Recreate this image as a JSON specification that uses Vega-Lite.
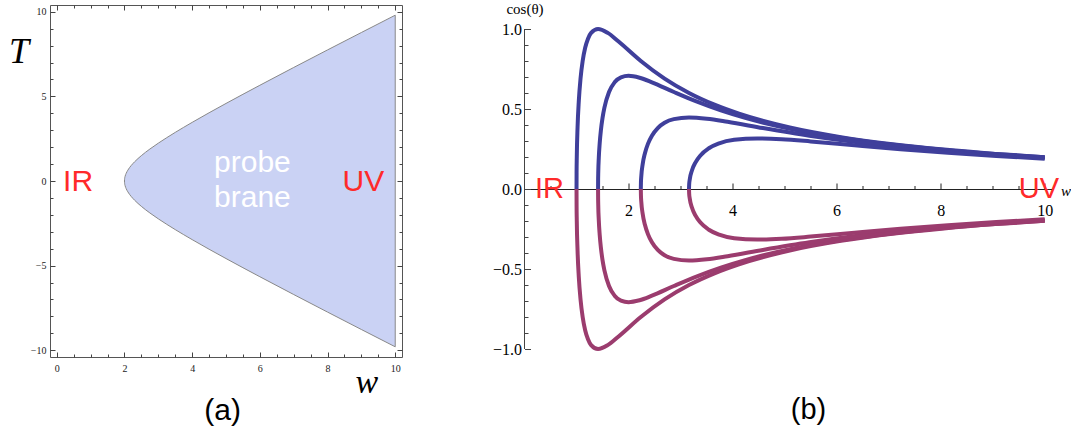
{
  "$schema": "https://vega.github.io/schema/vega-lite/v6.json",
  "padding": {"left": 8, "top": 1, "right": 0, "bottom": 0},
  "spacing": 122.5,
  "bounds": "flush",
  "config": {
    "view": {"stroke": "#555555", "strokeWidth": 1},
    "axis": {"grid": false, "minExtent": 0, "labelOverlap": false, "labelFont": "Liberation Serif", "titleFont": "Liberation Serif", "labelColor": "#222222", "titleColor": "#000000", "tickColor": "#444444", "domainColor": "#333333", "titleFontWeight": "normal"}
  },
  "datasets": {
    "brane": [
      {"w": 2, "hi": 0, "lo": 0},
      {"w": 2.005, "hi": 0.1415, "lo": -0.1415},
      {"w": 2.02, "hi": 0.2835, "lo": -0.2835},
      {"w": 2.05, "hi": 0.45, "lo": -0.45},
      {"w": 2.1, "hi": 0.6403, "lo": -0.6403},
      {"w": 2.2, "hi": 0.9165, "lo": -0.9165},
      {"w": 2.3, "hi": 1.1358, "lo": -1.1358},
      {"w": 2.5, "hi": 1.5, "lo": -1.5},
      {"w": 2.75, "hi": 1.8875, "lo": -1.8875},
      {"w": 3, "hi": 2.2361, "lo": -2.2361},
      {"w": 3.5, "hi": 2.8723, "lo": -2.8723},
      {"w": 4, "hi": 3.4641, "lo": -3.4641},
      {"w": 5, "hi": 4.5826, "lo": -4.5826},
      {"w": 6, "hi": 5.6569, "lo": -5.6569},
      {"w": 7, "hi": 6.7082, "lo": -6.7082},
      {"w": 8, "hi": 7.746, "lo": -7.746},
      {"w": 9, "hi": 8.775, "lo": -8.775},
      {"w": 10, "hi": 9.798, "lo": -9.798}
    ],
    "curves": [
      {"c": 1, "w": 1, "up": 0, "lo": 0},
      {"c": 1, "w": 1.00125, "up": 0.0998, "lo": -0.0998},
      {"c": 1, "w": 1.005, "up": 0.198, "lo": -0.198},
      {"c": 1, "w": 1.0198, "up": 0.3846, "lo": -0.3846},
      {"c": 1, "w": 1.044, "up": 0.5505, "lo": -0.5505},
      {"c": 1, "w": 1.077, "up": 0.6897, "lo": -0.6897},
      {"c": 1, "w": 1.118, "up": 0.8, "lo": -0.8},
      {"c": 1, "w": 1.1662, "up": 0.8824, "lo": -0.8824},
      {"c": 1, "w": 1.2207, "up": 0.9396, "lo": -0.9396},
      {"c": 1, "w": 1.2806, "up": 0.9756, "lo": -0.9756},
      {"c": 1, "w": 1.4142, "up": 1, "lo": -1},
      {"c": 1, "w": 1.6008, "up": 0.9756, "lo": -0.9756},
      {"c": 1, "w": 1.8028, "up": 0.9231, "lo": -0.9231},
      {"c": 1, "w": 2.2361, "up": 0.8, "lo": -0.8},
      {"c": 1, "w": 2.6926, "up": 0.6897, "lo": -0.6897},
      {"c": 1, "w": 3.1623, "up": 0.6, "lo": -0.6},
      {"c": 1, "w": 3.6401, "up": 0.5283, "lo": -0.5283},
      {"c": 1, "w": 4.1231, "up": 0.4706, "lo": -0.4706},
      {"c": 1, "w": 5.099, "up": 0.3846, "lo": -0.3846},
      {"c": 1, "w": 6.0828, "up": 0.3243, "lo": -0.3243},
      {"c": 1, "w": 7.0711, "up": 0.28, "lo": -0.28},
      {"c": 1, "w": 8.0623, "up": 0.2462, "lo": -0.2462},
      {"c": 1, "w": 9.0554, "up": 0.2195, "lo": -0.2195},
      {"c": 1, "w": 10, "up": 0.199, "lo": -0.199},
      {"c": 2, "w": 1.4142, "up": 0, "lo": 0},
      {"c": 2, "w": 1.4151, "up": 0.0499, "lo": -0.0499},
      {"c": 2, "w": 1.4177, "up": 0.0995, "lo": -0.0995},
      {"c": 2, "w": 1.4283, "up": 0.1961, "lo": -0.1961},
      {"c": 2, "w": 1.4457, "up": 0.2871, "lo": -0.2871},
      {"c": 2, "w": 1.4697, "up": 0.3704, "lo": -0.3704},
      {"c": 2, "w": 1.5, "up": 0.4444, "lo": -0.4444},
      {"c": 2, "w": 1.5362, "up": 0.5085, "lo": -0.5085},
      {"c": 2, "w": 1.6248, "up": 0.6061, "lo": -0.6061},
      {"c": 2, "w": 1.7321, "up": 0.6667, "lo": -0.6667},
      {"c": 2, "w": 1.8547, "up": 0.6977, "lo": -0.6977},
      {"c": 2, "w": 2, "up": 0.7071, "lo": -0.7071},
      {"c": 2, "w": 2.2113, "up": 0.6953, "lo": -0.6953},
      {"c": 2, "w": 2.4495, "up": 0.6667, "lo": -0.6667},
      {"c": 2, "w": 2.8723, "up": 0.6061, "lo": -0.6061},
      {"c": 2, "w": 3.3166, "up": 0.5455, "lo": -0.5455},
      {"c": 2, "w": 3.7749, "up": 0.4912, "lo": -0.4912},
      {"c": 2, "w": 4.2426, "up": 0.4444, "lo": -0.4444},
      {"c": 2, "w": 5.1962, "up": 0.3704, "lo": -0.3704},
      {"c": 2, "w": 6.1644, "up": 0.3158, "lo": -0.3158},
      {"c": 2, "w": 7.1414, "up": 0.2745, "lo": -0.2745},
      {"c": 2, "w": 8.124, "up": 0.2424, "lo": -0.2424},
      {"c": 2, "w": 9.1104, "up": 0.2169, "lo": -0.2169},
      {"c": 2, "w": 10, "up": 0.198, "lo": -0.198},
      {"c": 3, "w": 2.2361, "up": 0, "lo": 0},
      {"c": 3, "w": 2.2383, "up": 0.0399, "lo": -0.0399},
      {"c": 3, "w": 2.245, "up": 0.0794, "lo": -0.0794},
      {"c": 3, "w": 2.2716, "up": 0.155, "lo": -0.155},
      {"c": 3, "w": 2.3152, "up": 0.2239, "lo": -0.2239},
      {"c": 3, "w": 2.3749, "up": 0.2837, "lo": -0.2837},
      {"c": 3, "w": 2.4495, "up": 0.3333, "lo": -0.3333},
      {"c": 3, "w": 2.5617, "up": 0.381, "lo": -0.381},
      {"c": 3, "w": 2.6926, "up": 0.4138, "lo": -0.4138},
      {"c": 3, "w": 2.8705, "up": 0.4369, "lo": -0.4369},
      {"c": 3, "w": 3.1623, "up": 0.4472, "lo": -0.4472},
      {"c": 3, "w": 3.5057, "up": 0.4394, "lo": -0.4394},
      {"c": 3, "w": 3.9038, "up": 0.42, "lo": -0.42},
      {"c": 3, "w": 4.5826, "up": 0.381, "lo": -0.381},
      {"c": 3, "w": 5.4772, "up": 0.3333, "lo": -0.3333},
      {"c": 3, "w": 6.4031, "up": 0.2927, "lo": -0.2927},
      {"c": 3, "w": 7.3485, "up": 0.2593, "lo": -0.2593},
      {"c": 3, "w": 8.3066, "up": 0.2319, "lo": -0.2319},
      {"c": 3, "w": 9.2736, "up": 0.2093, "lo": -0.2093},
      {"c": 3, "w": 10, "up": 0.1949, "lo": -0.1949},
      {"c": 4, "w": 3.1623, "up": 0, "lo": 0},
      {"c": 4, "w": 3.1658, "up": 0.0299, "lo": -0.0299},
      {"c": 4, "w": 3.1765, "up": 0.0595, "lo": -0.0595},
      {"c": 4, "w": 3.2187, "up": 0.1158, "lo": -0.1158},
      {"c": 4, "w": 3.2879, "up": 0.1665, "lo": -0.1665},
      {"c": 4, "w": 3.3823, "up": 0.2098, "lo": -0.2098},
      {"c": 4, "w": 3.544, "up": 0.2548, "lo": -0.2548},
      {"c": 4, "w": 3.7417, "up": 0.2857, "lo": -0.2857},
      {"c": 4, "w": 4.0311, "up": 0.3077, "lo": -0.3077},
      {"c": 4, "w": 4.4721, "up": 0.3162, "lo": -0.3162},
      {"c": 4, "w": 4.9437, "up": 0.311, "lo": -0.311},
      {"c": 4, "w": 5.5, "up": 0.2975, "lo": -0.2975},
      {"c": 4, "w": 6.3443, "up": 0.2733, "lo": -0.2733},
      {"c": 4, "w": 7.2284, "up": 0.2488, "lo": -0.2488},
      {"c": 4, "w": 8.1394, "up": 0.2264, "lo": -0.2264},
      {"c": 4, "w": 9.0692, "up": 0.2067, "lo": -0.2067},
      {"c": 4, "w": 10, "up": 0.1897, "lo": -0.1897}
    ]
  },
  "hconcat": [
    {
      "width": 352,
      "height": 352,
      "layer": [
        {
          "data": {"name": "brane"},
          "mark": {"type": "area", "color": "#cad2f4", "opacity": 1, "interpolate": "monotone"},
          "encoding": {
            "x": {"field": "w", "type": "quantitative", "scale": {"domain": [-0.2, 10.2], "nice": false, "zero": false},
              "axis": {"orient": "bottom", "values": [0, 0.5, 1, 1.5, 2, 2.5, 3, 3.5, 4, 4.5, 5, 5.5, 6, 6.5, 7, 7.5, 8, 8.5, 9, 9.5, 10],
                "format": ".0f",
                "labelExpr": "datum.value % 2 === 0 ? datum.label : ''",
                "tickSize": {"condition": {"test": "datum.value % 2 === 0", "value": -5}, "value": -3},
                "labelPadding": 11, "labelFontSize": 10, "domain": false,
                "title": "w", "titleFontStyle": "italic", "titleFontSize": 34, "titleX": 305, "titleY": 35, "titleAlign": "left", "titleBaseline": "alphabetic"}},
            "y": {"field": "hi", "type": "quantitative", "scale": {"domain": [-10.4, 10.4], "nice": false, "zero": false},
              "axis": {"orient": "left", "values": [-10, -9, -8, -7, -6, -5, -4, -3, -2, -1, 0, 1, 2, 3, 4, 5, 6, 7, 8, 9, 10],
                "format": ".0f",
                "labelExpr": "datum.value % 5 === 0 ? datum.label : ''",
                "tickSize": {"condition": {"test": "datum.value % 5 === 0", "value": -5}, "value": -3},
                "labelPadding": 9, "labelFontSize": 10, "domain": false,
                "title": "T", "titleAngle": 0, "titleFontStyle": "italic", "titleFontSize": 36, "titleX": -41.5, "titleY": 57, "titleAlign": "left", "titleBaseline": "alphabetic"}},
            "y2": {"field": "lo"}
          }
        },
        {
          "data": {"name": "brane"},
          "mark": {"type": "line", "color": "#888888", "strokeWidth": 1, "interpolate": "monotone"},
          "encoding": {
            "x": {"field": "w", "type": "quantitative",
              "axis": {"orient": "top", "values": [0, 0.5, 1, 1.5, 2, 2.5, 3, 3.5, 4, 4.5, 5, 5.5, 6, 6.5, 7, 7.5, 8, 8.5, 9, 9.5, 10],
                "tickSize": {"condition": {"test": "datum.value % 2 === 0", "value": -5}, "value": -3},
                "labels": false, "domain": false, "title": null}},
            "y": {"field": "hi", "type": "quantitative",
              "axis": {"orient": "right", "values": [-10, -9, -8, -7, -6, -5, -4, -3, -2, -1, 0, 1, 2, 3, 4, 5, 6, 7, 8, 9, 10],
                "tickSize": {"condition": {"test": "datum.value % 5 === 0", "value": -5}, "value": -3},
                "labels": false, "domain": false, "title": null}}
          }
        },
        {
          "data": {"name": "brane"},
          "mark": {"type": "line", "color": "#888888", "strokeWidth": 1, "interpolate": "monotone"},
          "encoding": {
            "x": {"field": "w", "type": "quantitative", "axis": null},
            "y": {"field": "lo", "type": "quantitative", "axis": null}
          }
        },
        {
          "data": {"values": [{"w": 10, "hi": 9.798, "lo": -9.798}]},
          "mark": {"type": "rule", "color": "#888888", "strokeWidth": 1},
          "encoding": {
            "x": {"field": "w", "type": "quantitative", "axis": null},
            "y": {"field": "lo", "type": "quantitative", "axis": null},
            "y2": {"field": "hi"}
          }
        },
        {
          "data": {"values": [
            {"label": "IR", "w": 0.63, "T": -0.03, "kind": "red"},
            {"label": "UV", "w": 9.06, "T": -0.03, "kind": "red"},
            {"label": "probe", "w": 5.78, "T": 1.06, "kind": "white"},
            {"label": "brane", "w": 5.78, "T": -1.01, "kind": "white"},
            {"label": "(a)", "w": 4.9, "T": -13.6, "kind": "black"}
          ]},
          "mark": {"type": "text", "font": "Liberation Sans", "fontSize": 30, "baseline": "middle", "align": "center"},
          "encoding": {
            "x": {"field": "w", "type": "quantitative", "axis": null},
            "y": {"field": "T", "type": "quantitative", "axis": null},
            "text": {"field": "label"},
            "color": {"field": "kind", "type": "nominal", "scale": {"domain": ["red", "white", "black"], "range": ["#ff2a2a", "#ffffff", "#000000"]}, "legend": null}
          }
        }
      ],
      "resolve": {"axis": {"x": "independent", "y": "independent"}}
    },
    {
      "width": 528,
      "height": 368,
      "view": {"stroke": null},
      "layer": [
        {
          "data": {"name": "curves"},
          "mark": {"type": "line", "color": "#3f3f9b", "strokeWidth": 4, "interpolate": "monotone"},
          "encoding": {
            "x": {"field": "w", "type": "quantitative", "scale": {"domain": [0, 10.15], "nice": false, "zero": false},
              "axis": {"orient": "bottom", "offset": -184, "values": [0.5, 1, 1.5, 2, 2.5, 3, 3.5, 4, 4.5, 5, 5.5, 6, 6.5, 7, 7.5, 8, 8.5, 9, 9.5, 10],
                "format": ".0f",
                "labelExpr": "datum.value % 2 === 0 ? datum.label : ''",
                "tickSize": {"condition": {"test": "datum.value % 2 === 0", "value": -6}, "value": -3.5},
                "labelPadding": 19, "labelFontSize": 16, "labelColor": "#000000", "labelOverlap": false, "labelFlush": false, "domain": true, "domainColor": "#222222", "tickColor": "#222222",
                "title": "w", "titleFontStyle": "italic", "titleFontSize": 15, "titleX": 536, "titleY": 6, "titleAlign": "left", "titleBaseline": "alphabetic"}},
            "y": {"field": "up", "type": "quantitative", "scale": {"domain": [-1.15, 1.15], "nice": false, "zero": false},
              "axis": {"orient": "left", "values": [-1, -0.9, -0.8, -0.7, -0.6, -0.5, -0.4, -0.3, -0.2, -0.1, 0, 0.1, 0.2, 0.3, 0.4, 0.5, 0.6, 0.7, 0.8, 0.9, 1],
                "format": ".1f",
                "labelExpr": "abs(datum.value * 2 - round(datum.value * 2)) < 0.001 ? datum.label : ''",
                "tickSize": {"condition": {"test": "abs(datum.value * 2 - round(datum.value * 2)) < 0.001", "value": -6}, "value": -3.5},
                "labelPadding": 9, "labelFontSize": 16, "labelColor": "#000000", "labelOverlap": false, "domain": false, "tickColor": "#444444",
                "title": "cos(θ)", "titleAngle": 0, "titleFontSize": 15, "titleX": 0, "titleY": 8, "titleAlign": "center", "titleBaseline": "alphabetic"}},
            "detail": {"field": "c"}
          }
        },
        {
          "data": {"name": "curves"},
          "mark": {"type": "line", "color": "#9b3c6e", "strokeWidth": 4, "interpolate": "monotone"},
          "encoding": {
            "x": {"field": "w", "type": "quantitative", "axis": null},
            "y": {"field": "lo", "type": "quantitative", "axis": null},
            "detail": {"field": "c"}
          }
        },
        {
          "data": {"values": [{"x": 0, "y1": -1, "y2": 1}]},
          "mark": {"type": "rule", "color": "#444444", "strokeWidth": 1},
          "encoding": {
            "x": {"field": "x", "type": "quantitative", "axis": null},
            "y": {"field": "y1", "type": "quantitative", "axis": null},
            "y2": {"field": "y2"}
          }
        },
        {
          "data": {"values": [
            {"label": "IR", "w": 0.48, "v": 0, "kind": "red"},
            {"label": "UV", "w": 9.89, "v": 0, "kind": "red"},
            {"label": "(b)", "w": 5.46, "v": -1.38, "kind": "black"}
          ]},
          "mark": {"type": "text", "font": "Liberation Sans", "fontSize": 29, "baseline": "middle", "align": "center"},
          "encoding": {
            "x": {"field": "w", "type": "quantitative", "axis": null},
            "y": {"field": "v", "type": "quantitative", "axis": null},
            "text": {"field": "label"},
            "color": {"field": "kind", "type": "nominal", "scale": {"domain": ["red", "black"], "range": ["#ff2a2a", "#000000"]}, "legend": null}
          }
        }
      ],
      "resolve": {"axis": {"x": "independent", "y": "independent"}}
    }
  ]
}
